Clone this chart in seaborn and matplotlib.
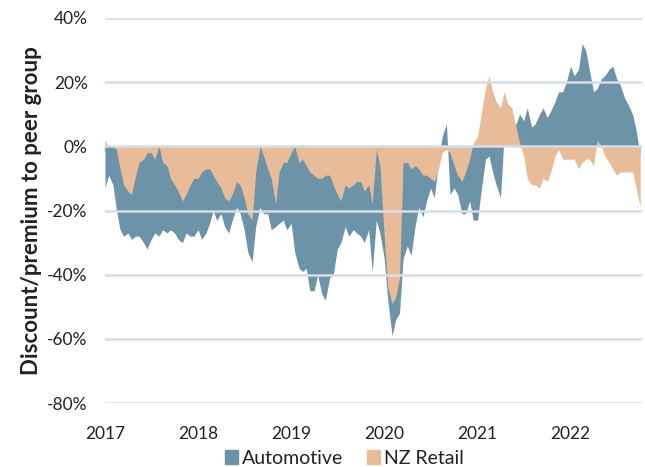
import numpy as np
import pandas as pd
import matplotlib.pyplot as plt
import matplotlib.dates as mdates
from matplotlib.patches import Patch
import seaborn as sns

# semi-monthly readings, discount/premium to peer group in %
dates = pd.date_range('2017-01-01', '2022-10-01', freq='SMS')
automotive = [
    -13, -9, -12, -20, -26, -28, -27, -29, -28, -28,
    -30, -32, -29, -27, -28, -26, -27, -26, -27, -29,
    -30, -27, -28, -28, -26, -29, -27, -24, -20, -23,
    -21, -25, -27, -23, -19, -21, -26, -33, -36, -25,
    -19, -21, -21, -26, -25, -24, -23, -26, -24, -33,
    -38, -39, -38, -45, -45, -40, -46, -48, -41, -40,
    -32, -30, -25, -28, -26, -27, -28, -30, -26, -39,
    -23, -27, -35, -48, -59, -54, -52, -35, -31, -34,
    -25, -19, -22, -17, -13, -16, -5, 3, 7, -15,
    -13, -15, -21, -21, -17, -23, -23, -14, -4, -3,
    -8, -12, -16, 3, 4, 5, 7, 10, 8, 12,
    6, 7, 10, 12, 9, 11, 14, 17, 17, 20,
    25, 22, 24, 32, 30, 24, 17, 18, 21, 22,
    24, 25, 21, 19, 15, 13, 10, 5, -3,
]
nz_retail = [
    2, 0, 0, -1, -7, -12, -14, -15, -9, -5,
    -4, -2, -2, -4, 0, -5, -6, -10, -12, -14,
    -17, -15, -12, -10, -10, -8, -7, -7, -9, -11,
    -13, -16, -17, -15, -11, -12, -16, -21, -23, -8,
    0, -3, -7, -10, -18, -8, -5, -5, -2, 0,
    -5, -4, -6, -8, -9, -10, -10, -9, -9, -12,
    -15, -17, -12, -13, -12, -11, -11, -14, -12, -18,
    -1, -6, -28, -44, -49, -47, -41, -5, -5, -7,
    -6, -7, -9, -9, -10, -11, -7, -2, -1, -2,
    -6, -9, -11, -8, -4, 1, 3, 10, 18, 22,
    17, 14, 12, 17, 13, 12, 6, 1, -3, -10,
    -12, -12, -13, -10, -11, -8, -3, -1, -4, -4,
    -4, -4, -7, -5, -4, -4, -6, 2, 0, -3,
    -5, -7, -9, -8, -8, -8, -8, -13, -19,
]
series_names = ['Automotive', 'NZ Retail']
year_ticks = pd.date_range('2017-01-01', '2022-01-01', freq='YS')

BLUE = '#6C93A8'
PEACH = '#E8BB99'
GRID = '#D5DDE7'
TEXT = '#222222'

sns.set_theme(style='white')
plt.rcParams['font.family'] = ['Lato', 'DejaVu Sans']

df = pd.DataFrame({'date': dates, series_names[0]: automotive,
                   series_names[1]: nz_retail})

fig = plt.figure(figsize=(6.45, 4.67), dpi=100)
ax = fig.add_axes([105/645, 1 - 403/467, (642 - 105)/645, (403 - 18)/467])

ax.fill_between(df['date'], 0, df[series_names[0]], color=BLUE, lw=0, zorder=1)
ax.fill_between(df['date'], 0, df[series_names[1]], color=PEACH, lw=0, zorder=1.5)

ymin, ymax = -80, 40
ax.set_ylim(ymin, ymax)
ax.set_yticks(range(ymin, ymax + 1, 20))
ax.yaxis.set_major_formatter(lambda v, p: f'{v:.0f}%')
ax.set_xlim(pd.Timestamp('2017-01-01'), pd.Timestamp('2022-10-08'))
ax.set_xticks(year_ticks)
ax.xaxis.set_major_formatter(mdates.DateFormatter('%Y'))

ax.set_axisbelow(False)
ax.grid(axis='y', color=GRID, lw=1.8)
ax.grid(axis='x', visible=False)
sns.despine(ax=ax, left=True, bottom=True)
ax.tick_params(axis='both', length=0, labelsize=12.5, labelcolor=TEXT)
ax.tick_params(axis='x', pad=16.5)
ax.tick_params(axis='y', pad=12.5)

# small year ticks hanging below the zero line
sec = ax.secondary_xaxis((0 - ymin) / (ymax - ymin))
sec.set_xticks(year_ticks)
sec.xaxis.set_ticks_position('bottom')
sec.tick_params(axis='x', direction='out', length=4, width=1.8, color=GRID,
                labelbottom=False, labeltop=False)
for side in ['top', 'bottom']:
    sec.spines[side].set_visible(False)

ax.set_ylabel('Discount/premium to peer group', fontsize=16,
              fontweight='bold', color=TEXT, labelpad=4)

handles = [Patch(color=BLUE, label=series_names[0]),
           Patch(color=PEACH, label=series_names[1])]
fig.legend(handles=handles, loc='center', bbox_to_anchor=(0.534, 1 - 458/467),
           ncol=2, frameon=False, fontsize=14, handlelength=0.7,
           handleheight=0.7, handletextpad=0.2, columnspacing=1.2,
           labelcolor=TEXT)

fig.savefig('out.png', dpi=100)
